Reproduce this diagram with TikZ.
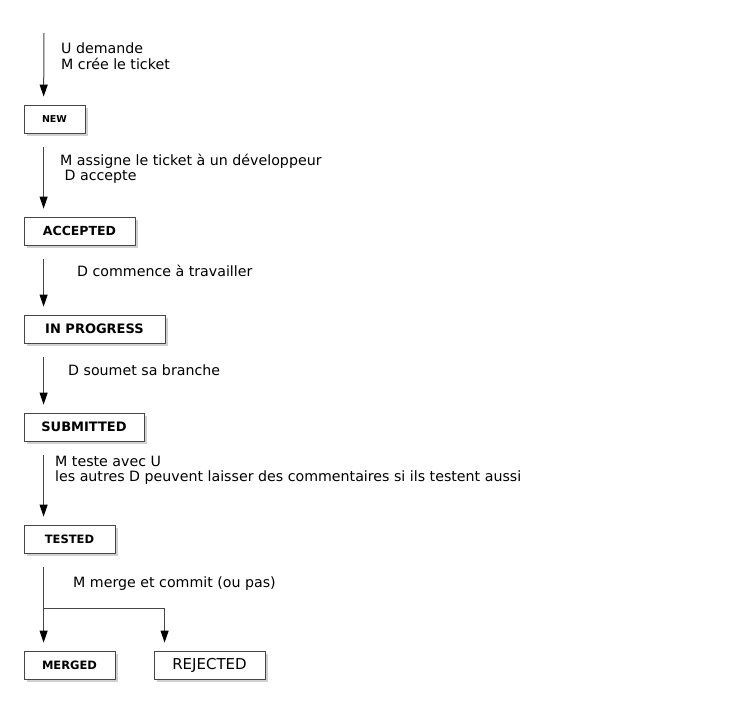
\documentclass[tikz,border=0pt]{standalone}
\usepackage{fontspec}
\setmainfont{DejaVu Sans}
\usetikzlibrary{positioning,shadows,arrows.meta}

\tikzset{
  state/.style={draw=gray!55!black, line width=0.8pt, fill=white,
    minimum height=28pt, inner sep=0pt,
    drop shadow={shadow xshift=3pt, shadow yshift=-3pt, fill=gray!60, opacity=0.6}},
  flow/.style={draw=gray!55!black, line width=1pt,
    -{Triangle[width=8pt,length=12pt,color=black]},
    shorten <=14pt, shorten >=8pt},
  lbl/.style={anchor=base west, inner sep=0pt,
    font=\fontsize{14.2}{14}\selectfont}
}
\newcommand{\twolines}[2]{\begin{tabular}[t]{@{}l@{}}#1\\#2\end{tabular}}

\begin{document}
\begin{tikzpicture}[x=1pt, y=-1pt]
      \useasboundingbox (0,0) rectangle (740,714);

      % the states of a ticket
      \node[state, minimum width=61pt, font=\bfseries\fontsize{9.5}{10}\selectfont] (new) at (54.5,119) {NEW};
      \node[state, minimum width=111pt, font=\bfseries\fontsize{12.5}{13}\selectfont] (accepted) at (79.5,231) {ACCEPTED};
      \node[state, minimum width=141pt, font=\bfseries\fontsize{13}{14}\selectfont] (inprogress) at (94.5,329) {IN PROGRESS};
      \node[state, minimum width=120pt, font=\bfseries\fontsize{13}{14}\selectfont] (submitted) at (84,427) {SUBMITTED};
      \node[state, minimum width=91pt, font=\bfseries\fontsize{11.5}{12}\selectfont] (tested) at (69.5,539) {TESTED};
      \node[state, minimum width=91pt, font=\bfseries\fontsize{11.5}{12}\selectfont] (merged) at (69.5,665) {MERGED};
      \node[state, minimum width=111pt, font=\fontsize{15}{16}\selectfont] (rejected) at (209.5,665) {REJECTED};

      \coordinate (start) at (44,33);
      \coordinate (split) at (44,608);

      % transitions
      \draw[flow, shorten <=0pt] (start) -- ([xshift=20pt]new.north west);
      \draw[flow] ([xshift=20pt]new.south west) -- ([xshift=20pt]accepted.north west);
      \draw[flow] ([xshift=20pt]accepted.south west) -- ([xshift=20pt]inprogress.north west);
      \draw[flow] ([xshift=20pt]inprogress.south west) -- ([xshift=20pt]submitted.north west);
      \draw[flow] ([xshift=20pt]submitted.south west) -- ([xshift=20pt]tested.north west);
      \draw[flow] ([xshift=20pt]tested.south west) -- ([xshift=20pt]merged.north west);
      \draw[flow, shorten <=0pt] (split) -| ([xshift=11pt]rejected.north west);

      % who does what
      \node[lbl] (l1) at (61,54) {\twolines{U demande}{M crée le ticket}};
      \node[lbl] (l2) at (60,166) {\twolines{M assigne le ticket à un développeur}{\hspace*{4.5pt}D accepte}};
      \node[lbl] (l3) at (77,277) {D commence à travailler};
      \node[lbl] (l4) at (68,376) {D soumet sa branche};
      \node[lbl] (l5) at (55,467) {\twolines{M teste avec U}{les autres D peuvent laisser des commentaires si ils testent aussi}};
      \node[lbl] (l6) at (73,587) {M merge et commit (ou pas)};
\end{tikzpicture}
\end{document}
